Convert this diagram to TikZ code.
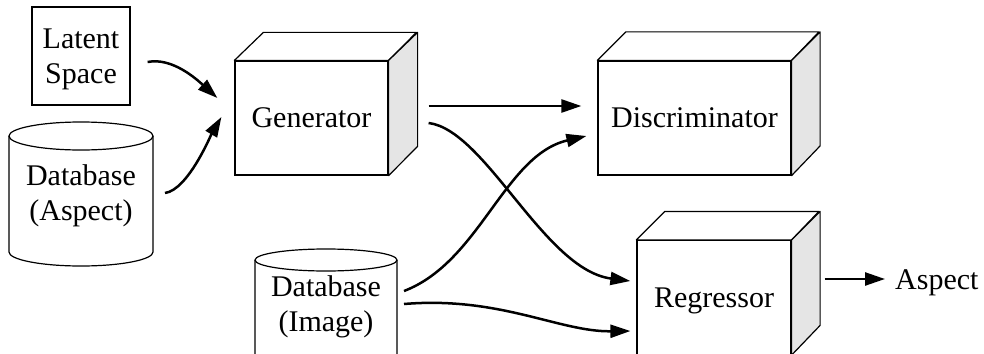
\documentclass[tikz,border=0pt]{standalone}
\usepackage{fontspec}
\setmainfont{Liberation Serif}
\usetikzlibrary{arrows.meta,calc}
\begin{document}
\begin{tikzpicture}[x=1pt,y=-1pt,
  font=\fontsize{30}{35}\selectfont,
  box/.style={draw, line width=1.2pt, fill=white, inner sep=0pt, text depth=0pt, align=center},
  lbl/.style={align=center, inner sep=0pt, text depth=0pt},
  conn/.style={line width=2.5pt, -{Triangle[length=20pt,width=13pt]}},
  sideface/.style={draw, line width=1.2pt, fill=black!10, line join=round},
  topface/.style={draw, line width=1.2pt, fill=white, line join=round},
  cyl/.style={draw, line width=1.2pt}]
\useasboundingbox (0,0) rectangle (984,353);
\clip (0,0) rectangle (984,353);

% Latent space
\node[box, minimum width=98pt, minimum height=98pt] (lat) at (81,56) {Latent\\Space};

% Database (Aspect) cylinder
\draw[cyl] (9,136) -- (9,252) arc[start angle=180,end angle=0,x radius=72,y radius=14] -- (153,136);
\draw[cyl] (81,136) ellipse[x radius=72,y radius=14];
\node[lbl] (dba) at (81,192.5) {Database\\(Aspect)};

% Database (Image) cylinder
\draw[cyl] (255,260) -- (255,376) arc[start angle=180,end angle=0,x radius=71,y radius=11] -- (397,260);
\draw[cyl] (326,260) ellipse[x radius=71,y radius=11];
\node[lbl] (dbi) at (326,303.5) {Database\\(Image)};

% Generator cube
\node[box, minimum width=153pt, minimum height=114pt] (gen) at (311.5,118) {Generator};
\draw[topface] (gen.north west) -- ++(29,-28) -- ++(153,0) -- (gen.north east) -- cycle;
\draw[sideface] (gen.north east) -- ++(29,-28) -- ++(0,114) -- (gen.south east) -- cycle;

% Discriminator cube
\node[box, minimum width=193pt, minimum height=114pt] (dis) at (694.5,118) {Discriminator};
\draw[topface] (dis.north west) -- ++(28.5,-28.5) -- ++(193,0) -- (dis.north east) -- cycle;
\draw[sideface] (dis.north east) -- ++(28.5,-28.5) -- ++(0,114) -- (dis.south east) -- cycle;

% Regressor cube
\node[box, minimum width=154pt, minimum height=114pt] (reg) at (714,297.5) {Regressor};
\draw[topface] (reg.north west) -- ++(28.5,-28.5) -- ++(154,0) -- (reg.north east) -- cycle;
\draw[sideface] (reg.north east) -- ++(28.5,-28.5) -- ++(0,114) -- (reg.south east) -- cycle;

% Output label
\node[lbl, anchor=west] (asp) at (895,280) {Aspect};

% Connectors
\draw[conn] ($(lat.east)+(17,6)$) .. controls +(25,-5) and +(-20,-18) .. ($(gen.west)+(-17,-20)$);
\draw[conn] ($(dba)+(84,0.5)$) .. controls +(23,-3) and +(-10,17) .. ($(gen.west)+(-13,-1)$);
\draw[conn] ($(gen.east)+(40,-12)$) -- ($(dis.west)+(-16,-12)$);
\draw[conn] ($(gen.east)+(40,5)$) .. controls +(57,7) and +(-86,-11) .. ($(reg.west)+(-6,-16.5)$);
\draw[conn] ($(dbi)+(78,-12.5)$) .. controls +(76,-29) and +(-82,19) .. ($(dis.west)+(-11,18)$);
\draw[conn] ($(dbi)+(78,0.5)$) .. controls +(96,-8) and +(-71,1) .. ($(reg.west)+(-6,33.5)$);
\draw[conn] ($(reg.east)+(33,-18.5)$) -- ($(asp.west)+(-10,-1)$);
\end{tikzpicture}
\end{document}
